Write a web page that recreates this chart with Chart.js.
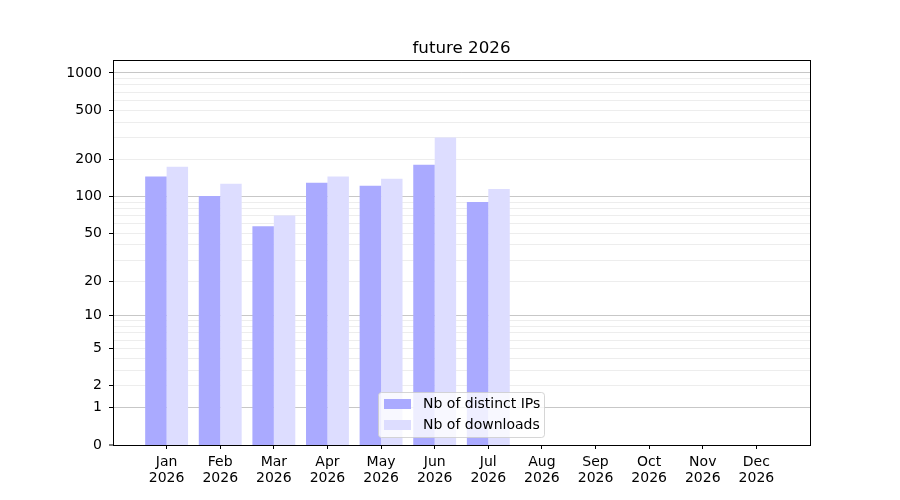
<!DOCTYPE html>
<html>
<head>
<meta charset="utf-8">
<script src="https://cdn.jsdelivr.net/npm/chart.js@4/dist/chart.umd.min.js"></script>
<style>
  body { margin: 0; background: #fff; }
  canvas { display: block; }
</style>
</head>
<body>
<canvas id="chart" width="900" height="500"></canvas>
<script>
const months = ['Jan', 'Feb', 'Mar', 'Apr', 'May', 'Jun', 'Jul', 'Aug', 'Sep', 'Oct', 'Nov', 'Dec'];
const year = '2026';
const distinctIps = [145, 101, 57, 129, 122, 181, 90, 0, 0, 0, 0, 0];
const downloads = [174, 127, 70, 145, 139, 301, 115, 0, 0, 0, 0, 0];
const yTickLabels = [0, 1, 2, 5, 10, 20, 50, 100, 200, 500, 1000];
const yMajorGrid = [1, 10, 100, 1000];
const yMinorGrid = [3, 4, 6, 7, 8, 9, 30, 40, 60, 70, 80, 90, 300, 400, 600, 700, 800, 900];
const yMax = 1270;

const FONT = 'DejaVu Sans';

// y axis spaced by log10(1 + v), like the reference
class Log1pScale extends Chart.LinearScale {
    buildTicks() {
        const all = yTickLabels.concat(yMinorGrid).sort((a, b) => a - b);
        return all.map(v => ({ value: v }));
    }
    configure() {
        super.configure();
        this._startValue = Math.log10(1 + this.min);
        this._valueRange = Math.log10(1 + this.max) - this._startValue;
    }
    getPixelForValue(value) {
        return this.getPixelForDecimal((Math.log10(1 + value) - this._startValue) / this._valueRange);
    }
    getValueForPixel(pixel) {
        return Math.pow(10, this._startValue + this.getDecimalForPixel(pixel) * this._valueRange) - 1;
    }
}
Log1pScale.id = 'log1p';
Log1pScale.defaults = Chart.LinearScale.defaults;
Chart.register(Log1pScale);

const framePlugin = {
    id: 'frame',
    afterDraw(chart) {
        const { ctx, chartArea } = chart;
        ctx.save();
        ctx.strokeStyle = '#000';
        ctx.lineWidth = 1;
        ctx.strokeRect(Math.round(chartArea.left) + 0.5, Math.round(chartArea.top) + 0.5,
            Math.round(chartArea.right - chartArea.left), Math.round(chartArea.bottom - chartArea.top));

        // title centred over the plot area
        ctx.fillStyle = '#000';
        ctx.font = '16.7px "' + FONT + '"';
        ctx.textAlign = 'center';
        ctx.textBaseline = 'alphabetic';
        ctx.fillText(chart.options.plugins.title.text, (chartArea.left + chartArea.right) / 2, 52.5);

        // legend box, matplotlib style
        const x = 378.5, y = 392.5, w = 166, h = 45, r = 3;
        ctx.beginPath();
        ctx.roundRect(x, y, w, h, r);
        ctx.fillStyle = 'rgba(255,255,255,0.8)';
        ctx.fill();
        ctx.strokeStyle = 'rgba(204,204,204,0.8)';
        ctx.stroke();
        ctx.font = '14px "' + FONT + '"';
        ctx.textAlign = 'left';
        ctx.textBaseline = 'middle';
        chart.data.datasets.forEach((ds, i) => {
            const rowY = 399 + i * 21;
            ctx.fillStyle = ds.backgroundColor;
            ctx.fillRect(384, rowY, 27, 10);
            ctx.fillStyle = '#000';
            ctx.fillText(ds.label, 423, rowY + 5.5);
        });
        ctx.restore();
    }
};

new Chart(document.getElementById('chart'), {
    type: 'bar',
    data: {
        datasets: [{
            label: 'Nb of distinct IPs',
            data: distinctIps.map((v, i) => ({ x: i, y: v })),
            backgroundColor: '#aaaaff'
        }, {
            label: 'Nb of downloads',
            data: downloads.map((v, i) => ({ x: i, y: v })),
            backgroundColor: '#ddddff'
        }]
    },
    options: {
        responsive: false,
        animation: false,
        devicePixelRatio: 1,
        categoryPercentage: 0.8,
        barPercentage: 1.0,
        layout: { padding: { left: 0, right: 90, top: 60, bottom: 0 } },
        plugins: {
            legend: { display: false },
            tooltip: { enabled: false },
            title: { display: false, text: 'future ' + year }
        },
        scales: {
            x: {
                type: 'linear',
                min: -1,
                max: 12,
                offset: false,
                afterBuildTicks: scale => {
                    scale.ticks = months.map((m, i) => ({ value: i }));
                },
                afterFit: scale => { scale.height = 55; },
                border: { display: false },
                grid: {
                    offset: false,
                    drawOnChartArea: false,
                    drawTicks: true,
                    tickLength: 4,
                    tickColor: '#000',
                    tickWidth: 1
                },
                ticks: {
                    autoSkip: false,
                    maxRotation: 0,
                    padding: 5,
                    color: '#000',
                    font: { family: FONT, size: 14, lineHeight: 1.15 },
                    callback: value => [months[value], year]
                }
            },
            y: {
                type: 'log1p',
                min: 0,
                max: yMax,
                z: 1,
                afterFit: scale => { scale.width = 113; },
                border: { display: false },
                grid: {
                    color: ctx => yMajorGrid.includes(ctx.tick.value) ? 'rgba(0,0,0,0.22)' : 'rgba(0,0,0,0.07)',
                    lineWidth: ctx => ctx.tick.value === 0 ? 0 : 1,
                    drawTicks: true,
                    tickLength: 4,
                    tickColor: ctx => yTickLabels.includes(ctx.tick.value) ? '#000' : 'rgba(0,0,0,0)',
                    tickWidth: 1
                },
                ticks: {
                    autoSkip: false,
                    padding: 7,
                    color: '#000',
                    font: { family: FONT, size: 14 },
                    callback: value => yTickLabels.includes(value) ? String(value) : ''
                }
            }
        }
    },
    plugins: [framePlugin]
});
</script>
</body>
</html>
